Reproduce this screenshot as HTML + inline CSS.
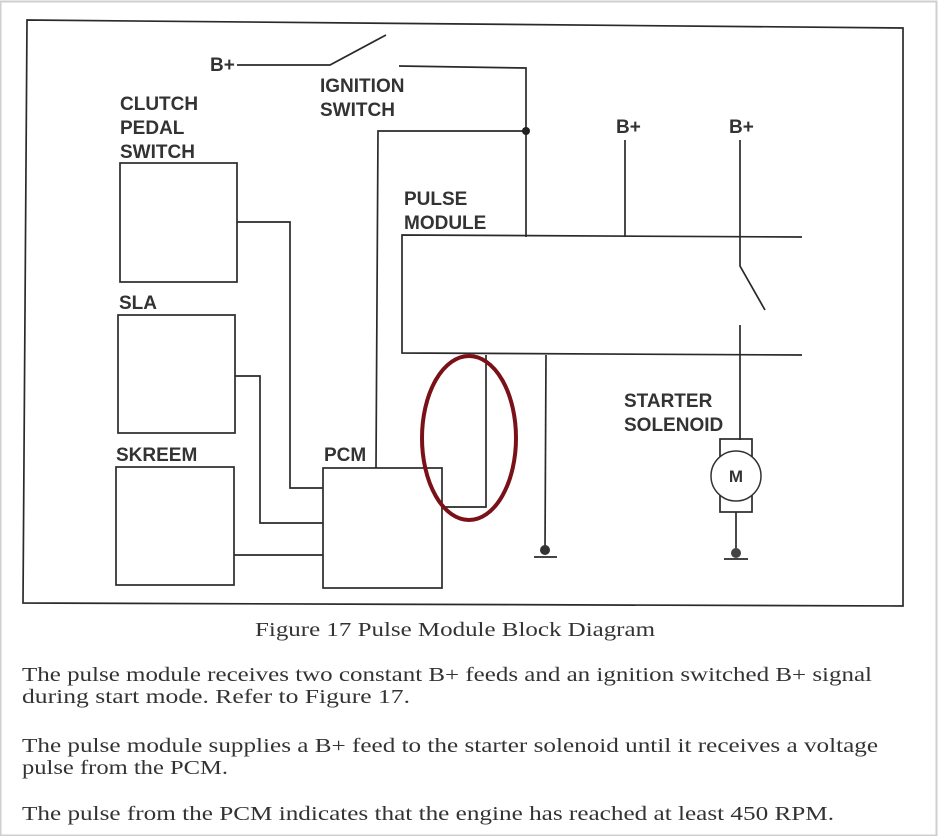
<!DOCTYPE html>
<html><head><style>html,body{margin:0;padding:0;background:#fff}svg{display:block}</style></head><body>
<svg width="938" height="836" viewBox="0 0 938 836" xmlns="http://www.w3.org/2000/svg">
<rect x="0.5" y="1.5" width="936" height="834" fill="#fff" stroke="#cfcfcf" stroke-width="2"/>
<g fill="none" stroke="#2a2a2a" stroke-width="1.7">
<path d="M27 20 L903 28 L903 606 L23 603 Z"/>
<path d="M237 65 L330 65 L386 35"/>
<path d="M399 66 L526 68 L526 237"/>
<path d="M376 468 L378 131 L526 131"/>
<rect x="120" y="163" width="117" height="119"/>
<path d="M237 222 L290 222 L290 488 L323 488"/>
<rect x="118" y="315" width="117" height="118"/>
<path d="M235 376 L260 376 L260 523 L323 523"/>
<rect x="116" y="467" width="118" height="118"/>
<path d="M234 555 L323 555"/>
<rect x="323" y="468" width="119" height="120"/>
<path d="M802 237 L402 235 L402 353 L802 355"/>
<path d="M625 140 L625 237"/>
<path d="M740 140 L740 266 L765 310"/>
<path d="M740 325 L740 440"/>
<path d="M442 507 L486 507 L486 355"/>
<path d="M546 355 L545 550"/>
<path d="M534 557 L557 557"/>
<rect x="720" y="439" width="32" height="73"/>
<path d="M736 512 L736 552"/>
<path d="M724 559 L748 559"/>
</g>
<circle cx="736" cy="476" r="25" fill="#fff" stroke="#333" stroke-width="1.5"/>
<circle cx="526" cy="131" r="4" fill="#222"/>
<circle cx="545" cy="550" r="5" fill="#333"/>
<circle cx="736" cy="553" r="5" fill="#444"/>
<ellipse cx="469" cy="438" rx="47" ry="82" fill="none" stroke="#7a1018" stroke-width="4"/>
<g font-family="Liberation Sans, sans-serif" font-weight="bold" font-size="19" fill="#333">
<text x="210" y="71">B+</text>
<text x="320" y="92">IGNITION</text>
<text x="320" y="116">SWITCH</text>
<text x="120" y="110">CLUTCH</text>
<text x="120" y="134">PEDAL</text>
<text x="120" y="158">SWITCH</text>
<text x="404" y="205">PULSE</text>
<text x="404" y="229">MODULE</text>
<text x="616" y="133">B+</text>
<text x="729" y="133">B+</text>
<text x="119" y="309">SLA</text>
<text x="116" y="461">SKREEM</text>
<text x="324" y="461">PCM</text>
<text x="624" y="407">STARTER</text>
<text x="624" y="431">SOLENOID</text>
<text x="736" y="482" text-anchor="middle" font-size="17">M</text>
</g>
<g font-family="Liberation Serif, serif" font-size="20" fill="#333">
<text x="255" y="636" textLength="400" lengthAdjust="spacingAndGlyphs">Figure 17  Pulse Module Block Diagram</text>
<text x="22" y="681" textLength="850" lengthAdjust="spacingAndGlyphs">The pulse module receives two constant B+ feeds and an ignition switched B+ signal</text>
<text x="22" y="703" textLength="388" lengthAdjust="spacingAndGlyphs">during start mode.  Refer to Figure 17.</text>
<text x="22" y="752" textLength="856" lengthAdjust="spacingAndGlyphs">The pulse module supplies a B+ feed to the starter solenoid until it receives a voltage</text>
<text x="22" y="774" textLength="206" lengthAdjust="spacingAndGlyphs">pulse from the PCM.</text>
<text x="22" y="820" textLength="812" lengthAdjust="spacingAndGlyphs">The pulse from the PCM indicates that the engine has reached at least 450 RPM.</text>
</g>
</svg>
</body></html>
